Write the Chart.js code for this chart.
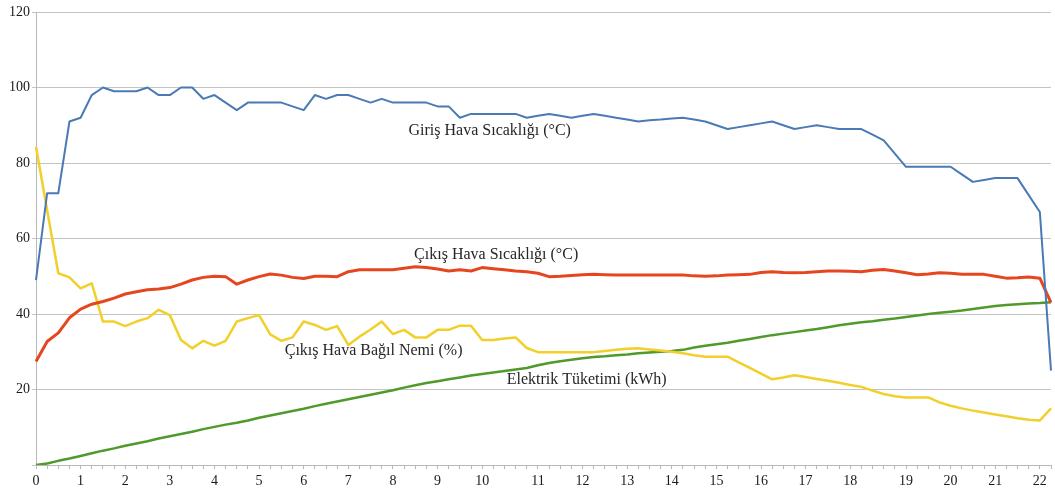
<!DOCTYPE html>
<html lang="tr">
<head>
    <meta charset="UTF-8">
    <title>Kurutma Deneyi</title>
    <script src="https://cdn.jsdelivr.net/npm/chart.js"></script>
    <style>
        body {
            margin: 0;
            padding: 0;
            background: #ffffff;
        }
        canvas {
            display: block;
        }
    </style>
</head>
<body>
    <canvas id="dryerChart" width="1055" height="492"></canvas>

    <script>
        // hour labels and the category index where each one sits
        const hourLabels = ['0', '1', '2', '3', '4', '5', '6', '7', '8', '9', '10', '11',
                            '12', '13', '14', '15', '16', '17', '18', '19', '20', '21', '22'];
        const hourLabelIndex = [0, 4, 8, 12, 16, 20, 24, 28, 32, 36, 40, 45,
                                49, 53, 57, 61, 65, 69, 73, 78, 82, 86, 90];

        // Giriş Hava Sıcaklığı (°C)
        const girisSicaklik = [
            49, 72, 72, 91, 92, 98, 100, 99, 99, 99,
            100, 98, 98, 100, 100, 97, 98, 96, 94, 96,
            96, 96, 96, 95, 94, 98, 97, 98, 98, 97,
            96, 97, 96, 96, 96, 96, 95, 95, 92, 93,
            93, 93, 93, 93, 92, 92.5, 93, 92.5, 92, 92.5,
            93, 92.5, 92, 91.5, 91, 91.3, 91.5, 91.8, 92, 91.5,
            91, 90, 89, 89.5, 90, 90.5, 91, 90, 89, 89.5,
            90, 89.5, 89, 89, 89, 87.5, 86, 82.5, 79, 79,
            79, 79, 79, 77, 75, 75.5, 76, 76, 76, 71.5,
            67, 25
        ];

        // Çıkış Hava Sıcaklığı (°C)
        const cikisSicaklik = [
            27.4, 32.7, 35, 39, 41.3, 42.6, 43.3, 44.2, 45.3, 45.9,
            46.4, 46.6, 47, 47.9, 49, 49.7, 50, 49.9, 47.9, 49,
            49.9, 50.6, 50.3, 49.7, 49.4, 50, 50, 49.9, 51.2, 51.7,
            51.7, 51.7, 51.7, 52.1, 52.5, 52.3, 51.9, 51.4, 51.7, 51.4,
            52.3, 52, 51.7, 51.4, 51.2, 50.8, 49.9, 50, 50.2, 50.4,
            50.5, 50.4, 50.3, 50.3, 50.3, 50.3, 50.3, 50.3, 50.3, 50.1,
            50, 50.1, 50.3, 50.4, 50.5, 51, 51.2, 51, 50.9, 51,
            51.2, 51.4, 51.4, 51.3, 51.2, 51.6, 51.8, 51.4, 50.9, 50.4,
            50.6, 50.9, 50.8, 50.5, 50.5, 50.5, 50, 49.5, 49.6, 49.8,
            49.5, 43
        ];

        // Çıkış Hava Bağıl Nemi (%)
        const cikisNem = [
            84.3, 67.5, 50.8, 49.7, 46.8, 48.1, 38, 38, 36.8, 38,
            38.9, 41.1, 39.7, 33.1, 30.9, 32.9, 31.6, 32.9, 38, 38.9,
            39.7, 34.6, 32.9, 33.8, 38, 37.1, 35.8, 36.8, 31.8, 34,
            35.9, 38, 34.7, 35.8, 33.8, 33.8, 35.8, 35.8, 36.9, 36.9,
            33.1, 33.1, 33.5, 33.8, 31, 29.9, 29.9, 29.9, 29.9, 29.9,
            29.9, 30.2, 30.5, 30.8, 30.9, 30.6, 30.3, 30, 29.6, 29.1,
            28.7, 28.7, 28.7, 27.2, 25.7, 24.2, 22.7, 23.2, 23.8, 23.3,
            22.8, 22.3, 21.8, 21.2, 20.7, 19.7, 18.8, 18.2, 17.9, 17.9,
            17.9, 16.6, 15.7, 15, 14.4, 13.9, 13.4, 12.9, 12.4, 12,
            11.8, 15
        ];

        // Elektrik Tüketimi (kWh)
        const elektrik = [
            0, 0.4, 1.1, 1.7, 2.4, 3.1, 3.8, 4.4, 5.1, 5.7,
            6.3, 7, 7.6, 8.2, 8.8, 9.5, 10.1, 10.7, 11.2, 11.8,
            12.5, 13.1, 13.7, 14.3, 14.9, 15.6, 16.2, 16.8, 17.4, 18,
            18.6, 19.2, 19.8, 20.5, 21.1, 21.7, 22.2, 22.7, 23.2, 23.7,
            24.1, 24.5, 24.9, 25.3, 25.7, 26.4, 27, 27.5, 27.9, 28.3,
            28.6, 28.8, 29.1, 29.3, 29.6, 29.8, 30, 30.2, 30.5, 31.1,
            31.6, 32, 32.4, 32.9, 33.4, 33.9, 34.4, 34.8, 35.2, 35.6,
            36, 36.5, 37, 37.4, 37.8, 38.1, 38.5, 38.8, 39.2, 39.6,
            40, 40.3, 40.6, 40.9, 41.3, 41.7, 42.1, 42.4, 42.6, 42.8,
            42.9, 43.1
        ];

        // series names, written inside the plot next to each line
        const seriesNames = ['Giriş Hava Sıcaklığı (°C)', 'Çıkış Hava Sıcaklığı (°C)',
                             'Çıkış Hava Bağıl Nemi (%)', 'Elektrik Tüketimi (kWh)'];
        const nameAtIndex = [33.4, 33.9, 22.3, 42.2];
        const nameAtValue = [88.5, 55.6, 30.2, 22.5];

        // build the category labels: one slot per reading, hour number where it belongs
        const labels = girisSicaklik.map(() => '');
        hourLabelIndex.forEach((idx, k) => { labels[idx] = hourLabels[k]; });

        const serif = '"Liberation Serif", "Times New Roman", serif';

        // draws the series names on the plot
        const seriesNamePlugin = {
            id: 'seriesNames',
            afterDatasetsDraw(chart) {
                const ctx = chart.ctx;
                const xs = chart.scales.x;
                const ys = chart.scales.y;
                ctx.save();
                ctx.font = '16px ' + serif;
                ctx.fillStyle = '#262626';
                ctx.textAlign = 'left';
                ctx.textBaseline = 'middle';
                seriesNames.forEach((name, i) => {
                    ctx.fillText(name, xs.getPixelForValue(nameAtIndex[i]), ys.getPixelForValue(nameAtValue[i]));
                });
                ctx.restore();
            }
        };

        function line(data, color, width) {
            return {
                data: data,
                borderColor: color,
                borderWidth: width,
                pointRadius: 0,
                tension: 0,
                fill: false,
                borderJoinStyle: 'round'
            };
        }

        const ctx = document.getElementById('dryerChart').getContext('2d');
        new Chart(ctx, {
            type: 'line',
            data: {
                labels: labels,
                datasets: [
                    line(girisSicaklik, '#4a7ab5', 2),
                    line(cikisSicaklik, '#e6461f', 3),
                    line(cikisNem, '#f2cf2a', 2.5),
                    line(elektrik, '#4f9a2a', 2.5)
                ]
            },
            options: {
                responsive: false,
                animation: false,
                devicePixelRatio: 1,
                layout: {
                    padding: { top: 12, right: 2, left: 0, bottom: 0 }
                },
                plugins: {
                    legend: { display: false },
                    tooltip: { enabled: false }
                },
                scales: {
                    x: {
                        type: 'category',
                        offset: false,
                        grid: {
                            drawOnChartArea: false,
                            drawTicks: true,
                            tickLength: 4,
                            color: '#b8b8b8'
                        },
                        border: { color: '#b8b8b8' },
                        ticks: {
                            autoSkip: false,
                            maxRotation: 0,
                            minRotation: 0,
                            padding: 4,
                            color: '#1a1a1a',
                            font: { family: serif, size: 14 }
                        },
                        afterFit(scale) { scale.height = 27; }
                    },
                    y: {
                        min: 0,
                        max: 120,
                        grid: {
                            color: '#c4c4c4',
                            tickLength: 4
                        },
                        border: { color: '#b8b8b8' },
                        ticks: {
                            stepSize: 20,
                            padding: 2,
                            color: '#1a1a1a',
                            font: { family: serif, size: 14 },
                            callback: (v) => (v === 0 ? '' : v)
                        },
                        afterFit(scale) { scale.width = 36; }
                    }
                }
            },
            plugins: [seriesNamePlugin]
        });
    </script>
</body>
</html>
